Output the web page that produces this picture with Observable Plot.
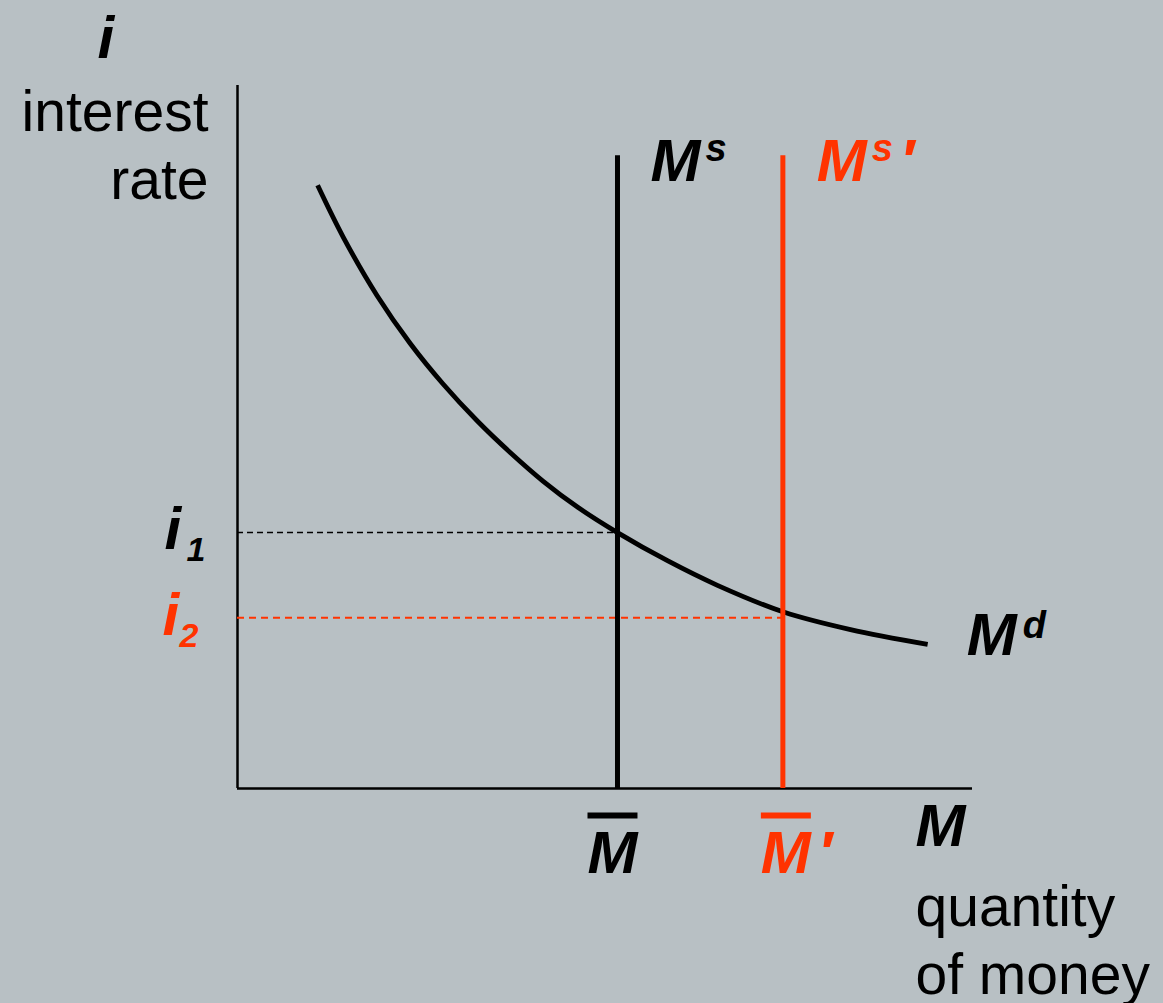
<!DOCTYPE html>
<html>
<head>
<meta charset="utf-8">
<script src="https://cdn.jsdelivr.net/npm/d3@7"></script>
<script src="https://cdn.jsdelivr.net/npm/@observablehq/plot@0.6"></script>
<style>
  html, body { margin: 0; padding: 0; background: #b8c0c4; }
  #chart { width: 1163px; height: 1003px; overflow: hidden; }
</style>
</head>
<body>
<div id="chart"></div>
<script>
// Money market: a rise in money supply lowers the equilibrium interest rate.
const supplyLevels = [5.17, 7.42];          // M̄, M̄′ (quantity of money)
const rateLevels = [3.64, 2.43];            // i1, i2 (interest rate)
const supplyTop = 9;                         // top of the vertical supply lines
const demandQuantity = [1.09, 1.44, 1.90, 2.35, 2.80, 3.27, 3.71, 4.16, 4.63, 5.17, 5.85, 6.53, 7.43, 8.34, 9.39];
const demandRate     = [8.58, 7.84, 7.01, 6.33, 5.75, 5.22, 4.78, 4.37, 4.00, 3.64, 3.24, 2.89, 2.51, 2.26, 2.05];

const ink = "#000000";
const shift = "#ff3300";
const font = "'Liberation Sans', Arial, Helvetica, sans-serif";

const demand = demandQuantity.map((q, k) => ({q, r: demandRate[k]}));
const demandEnd = demand[demand.length - 1];

const bi = {fontFamily: font, fontWeight: "bold", fontStyle: "italic", textAnchor: "start", lineAnchor: "bottom"};
const reg = {fontFamily: font, fontWeight: "normal", fontStyle: "normal", lineAnchor: "bottom"};

// label placed at a data point
const at = (x, y, text, opts) =>
  Plot.text([{x, y, text}], {x: "x", y: "y", text: "text", ...bi, ...opts});
// label placed relative to a corner of the frame
const corner = (text, opts) =>
  Plot.text([text], {text: d => d, ...bi, ...opts});

const chart = Plot.plot({
  width: 1163,
  height: 1003,
  marginLeft: 237,
  marginRight: 191,
  marginTop: 85,
  marginBottom: 215,
  x: {domain: [0, 10], axis: null},
  y: {domain: [0, 10], axis: null},
  style: {background: "#b8c0c4", overflow: "visible"},
  marks: [
    // axes
    Plot.ruleY([0], {stroke: ink, strokeWidth: 2.5}),
    Plot.ruleX([0], {stroke: ink, strokeWidth: 2.5}),

    // equilibrium interest rates
    Plot.ruleY([rateLevels[0]], {x1: 0, x2: supplyLevels[0], stroke: ink, strokeWidth: 1.5, strokeDasharray: "6,4"}),
    Plot.ruleY([rateLevels[1]], {x1: 0, x2: supplyLevels[1], stroke: shift, strokeWidth: 2, strokeDasharray: "7,5"}),

    // money demand
    Plot.line(demand, {x: "q", y: "r", curve: "catmull-rom", stroke: ink, strokeWidth: 4.8, strokeLinecap: "butt"}),

    // money supply, before and after
    Plot.ruleX([supplyLevels[0]], {y1: 0, y2: supplyTop, stroke: ink, strokeWidth: 5}),
    Plot.ruleX([supplyLevels[1]], {y1: 0, y2: supplyTop, stroke: shift, strokeWidth: 5}),

    // vertical axis title
    corner("i", {frameAnchor: "top-left", dx: -140, dy: -28, fontSize: 60, fill: ink}),
    corner("interest\nrate", {...reg, frameAnchor: "top-left", textAnchor: "end", dx: -29, dy: 113, fontSize: 57, lineHeight: 1.19, fill: ink}),

    // horizontal axis title
    corner("M", {frameAnchor: "bottom-right", dx: -57, dy: 57, fontSize: 60, fill: ink}),
    corner("quantity\nof money", {...reg, frameAnchor: "bottom-right", textAnchor: "start", dx: -57, dy: 205, fontSize: 57, lineHeight: 1.19, fill: ink}),

    // supply curve labels
    at(supplyLevels[0], supplyTop, "M", {dx: 33, dy: 25, fontSize: 60, fill: ink}),
    at(supplyLevels[0], supplyTop, "s", {dx: 88, dy: 5, fontSize: 38, fill: ink}),
    at(supplyLevels[1], supplyTop, "M", {dx: 34, dy: 25, fontSize: 60, fill: shift}),
    at(supplyLevels[1], supplyTop, "s", {dx: 89, dy: 5, fontSize: 38, fill: shift}),
    at(supplyLevels[1], supplyTop, "′", {dx: 117, dy: 25, fontSize: 60, fill: shift}),

    // fixed money stock on the horizontal axis
    at(supplyLevels[0], 0, "M", {dx: -30, dy: 84, fontSize: 60, fill: ink, className: "money-stock"}),
    at(supplyLevels[1], 0, "M", {dx: -22, dy: 84, fontSize: 60, fill: shift, className: "money-stock"}),
    at(supplyLevels[1], 0, "′", {dx: 35, dy: 84, fontSize: 60, fill: shift}),

    // interest rate levels
    at(0, rateLevels[0], "i", {dx: -73, dy: 16, fontSize: 60, fill: ink}),
    at(0, rateLevels[0], "1", {dx: -51, dy: 28, fontSize: 34, fill: ink}),
    at(0, rateLevels[1], "i", {dx: -75, dy: 17, fontSize: 60, fill: shift}),
    at(0, rateLevels[1], "2", {dx: -58, dy: 29, fontSize: 34, fill: shift}),

    // demand curve label
    at(demandEnd.q, demandEnd.r, "M", {dx: 39, dy: 11, fontSize: 60, fill: ink}),
    at(demandEnd.q, demandEnd.r, "d", {dx: 95, dy: -6, fontSize: 38, fill: ink})
  ]
});

// bar over the money stock symbol
let stock = d3.select(chart).selectAll(".money-stock text");
if (stock.empty()) {
  const groups = d3.select(chart).selectAll('g[aria-label="text"]').nodes();
  stock = d3.selectAll([groups[9], groups[10]]).selectAll("text");
}
stock
  .attr("text-decoration", "overline")
  .style("text-decoration", "overline")
  .style("text-decoration-thickness", "2.5px");

document.getElementById("chart").appendChild(chart);
</script>
</body>
</html>
